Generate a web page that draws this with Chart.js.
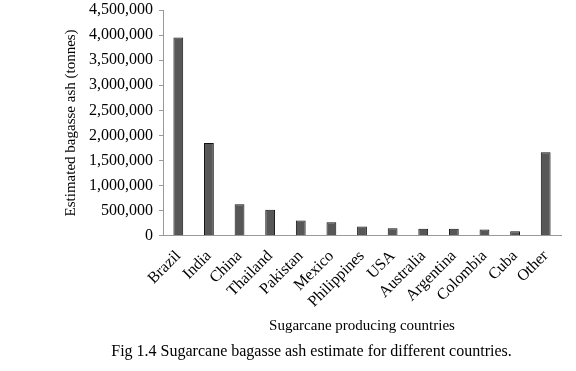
<!DOCTYPE html>
<html>
<head>
<meta charset="utf-8">
<script src="https://cdn.jsdelivr.net/npm/chart.js@4/dist/chart.umd.min.js"></script>
<style>
html,body{margin:0;padding:0;background:#fff;}
#wrap{position:relative;width:576px;height:371px;}
</style>
</head>
<body>
<div id="wrap"><canvas id="c" width="576" height="371"></canvas></div>
<script>
const categories = ["Brazil","India","China","Thailand","Pakistan","Mexico","Philippines","USA","Australia","Argentina","Colombia","Cuba","Other"];
const ashTonnes = [3950000,1850000,630000,520000,305000,270000,185000,150000,140000,140000,125000,90000,1665000];
const yAxisTitle = "Estimated bagasse ash (tonnes)";
const xAxisTitle = "Sugarcane producing countries";
const caption = "Fig 1.4 Sugarcane bagasse ash estimate for different countries.";

const serif = "'Liberation Serif','Times New Roman',serif";
new Chart(document.getElementById('c'), {
  type: 'bar',
  data: {
    labels: categories,
    datasets: [{
      data: ashTonnes,
      backgroundColor: '#575757',
      borderColor: '#111',
      borderWidth: 1,
      barPercentage: 0.32,
      categoryPercentage: 1.0
    }]
  },
  options: {
    responsive: false,
    animation: false,
    layout: { padding: { left: 62, right: 15, top: 0, bottom: 10 } },
    plugins: {
      legend: { display: false },
      tooltip: { enabled: false },
      title: {
        display: true,
        position: 'bottom',
        text: caption,
        color: '#000',
        font: { family: serif, size: 16, weight: 'normal' },
        padding: { top: 2, bottom: 0 }
      }
    },
    scales: {
      x: {
        afterFit: (s) => { s.height = 104; },
        grid: { display: false },
        border: { display: true, color: '#9a9a9a', width: 1 },
        ticks: {
          color: '#000',
          font: { family: serif, size: 16 },
          minRotation: 45, maxRotation: 45,
          autoSkip: false,
          padding: 3
        },
        title: {
          display: true,
          text: xAxisTitle,
          color: '#000',
          font: { family: serif, size: 15 },
          padding: { top: 4, bottom: 5 }
        }
      },
      y: {
        min: 0, max: 4500000,
        afterFit: (s) => { s.width = 101; s.paddingTop = 10; },
        grid: { display: true, drawOnChartArea: false, drawTicks: true, tickLength: 4, color: '#9a9a9a' },
        border: { display: true, color: '#9a9a9a', width: 1 },
        ticks: {
          stepSize: 500000,
          color: '#000',
          font: { family: serif, size: 16 },
          padding: 6,
          callback: (v) => v.toLocaleString('en-US')
        },
        title: {
          display: true,
          text: yAxisTitle,
          color: '#000',
          font: { family: serif, size: 15 },
          padding: 0
        }
      }
    }
  }
});
</script>
</body>
</html>
